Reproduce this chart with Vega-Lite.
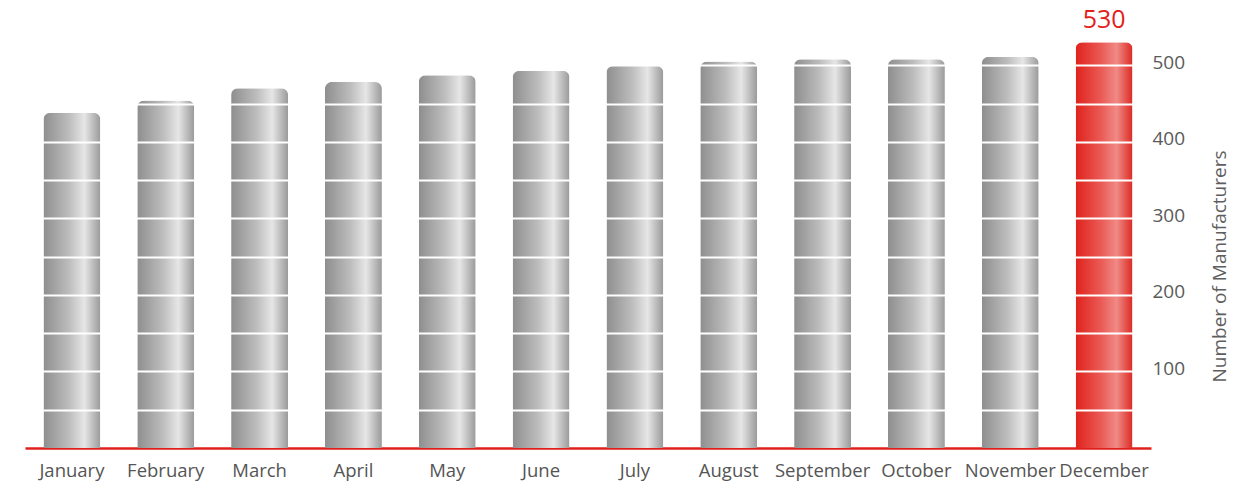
{
  "$schema": "https://vega.github.io/schema/vega-lite/v6.json",
  "width": 1126,
  "height": 421,
  "autosize": {"type": "none"},
  "padding": {"left": 25, "top": 27, "right": 109, "bottom": 36},
  "background": "white",
  "config": {
    "view": {"stroke": null},
    "font": "Open Sans",
    "scale": {"bandPaddingInner": 0.393}
  },
  "data": {
    "values": [
      {"month": "January", "count": 438},
      {"month": "February", "count": 454},
      {"month": "March", "count": 470},
      {"month": "April", "count": 478},
      {"month": "May", "count": 487},
      {"month": "June", "count": 493},
      {"month": "July", "count": 499},
      {"month": "August", "count": 505},
      {"month": "September", "count": 508},
      {"month": "October", "count": 508},
      {"month": "November", "count": 511},
      {"month": "December", "count": 530}
    ]
  },
  "encoding": {
    "x": {
      "field": "month",
      "type": "nominal",
      "sort": null,
      "axis": {
        "title": null,
        "labelAngle": 0,
        "ticks": false,
        "domainColor": "#e0201b",
        "domainWidth": 2.5,
        "labelFont": "Open Sans",
        "labelFontSize": 18.5,
        "labelColor": "#555555",
        "labelPadding": 13
      }
    },
    "y": {
      "field": "count",
      "type": "quantitative",
      "scale": {"domain": [0, 550], "nice": false},
      "axis": {
        "orient": "right",
        "title": "Number of Manufacturers",
        "titleAngle": -90,
        "titleX": 68,
        "titleY": 239,
        "titleAlign": "center",
        "titleBaseline": "middle",
        "titleFont": "Open Sans",
        "titleFontSize": 19,
        "titleFontWeight": "normal",
        "titleColor": "#5e5e5e",
        "values": [50, 100, 150, 200, 250, 300, 350, 400, 450, 500],
        "labelExpr": "datum.value % 100 === 0 ? datum.label : ''",
        "labelFont": "Open Sans",
        "labelFontSize": 19,
        "labelColor": "#5a5a5a",
        "labelPadding": 1,
        "labelOffset": -3,
        "ticks": false,
        "domain": false,
        "grid": true,
        "gridColor": "white",
        "gridWidth": 2,
        "zindex": 1
      }
    }
  },
  "layer": [
    {
      "transform": [{"filter": "datum.month !== 'December'"}],
      "mark": {
        "type": "bar",
        "cornerRadiusTopLeft": 7,
        "cornerRadiusTopRight": 7,
        "color": {
          "gradient": "linear",
          "x1": 0, "y1": 0, "x2": 1, "y2": 0,
          "stops": [
            {"offset": 0, "color": "#8e8e8e"},
            {"offset": 0.45, "color": "#bdbdbd"},
            {"offset": 0.72, "color": "#e6e6e6"},
            {"offset": 1, "color": "#9a9a9a"}
          ]
        }
      }
    },
    {
      "transform": [{"filter": "datum.month === 'December'"}],
      "mark": {
        "type": "bar",
        "cornerRadiusTopLeft": 7,
        "cornerRadiusTopRight": 7,
        "color": {
          "gradient": "linear",
          "x1": 0, "y1": 0, "x2": 1, "y2": 0,
          "stops": [
            {"offset": 0, "color": "#e0221c"},
            {"offset": 0.45, "color": "#ea5b56"},
            {"offset": 0.72, "color": "#f08a86"},
            {"offset": 1, "color": "#dc2a24"}
          ]
        }
      }
    },
    {
      "transform": [{"filter": "datum.month === 'December'"}],
      "mark": {
        "type": "text",
        "baseline": "alphabetic",
        "dy": -14,
        "font": "Open Sans",
        "fontSize": 25,
        "color": "#e3211c"
      },
      "encoding": {"text": {"field": "count", "type": "quantitative"}}
    }
  ]
}
